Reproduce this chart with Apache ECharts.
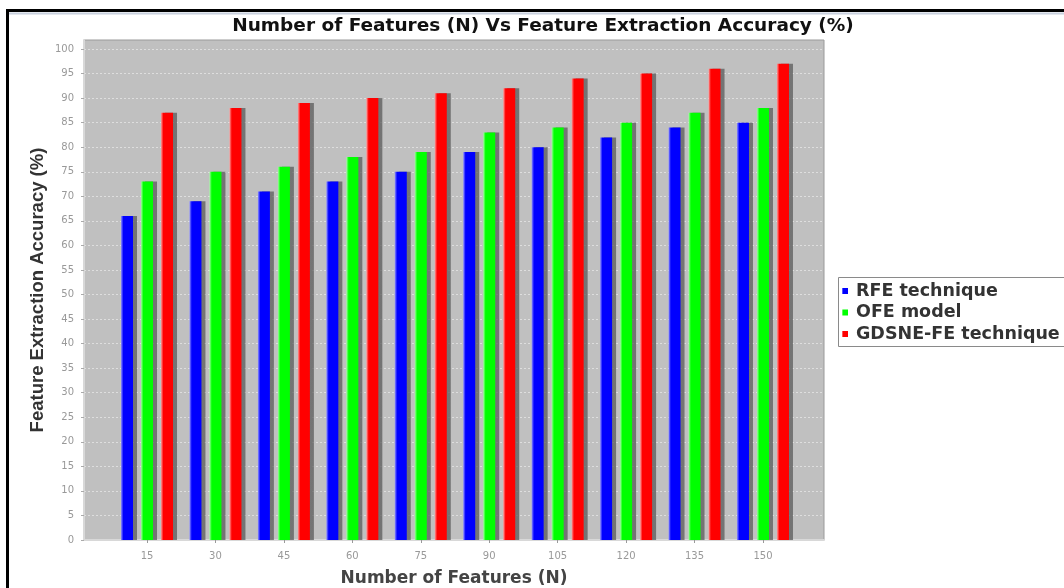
<!DOCTYPE html>
<html>
<head>
<meta charset="utf-8">
<script src="https://cdn.jsdelivr.net/npm/echarts@6/dist/echarts.min.js"></script>
<style>html,body{margin:0;padding:0;background:#fff}#c{width:1064px;height:588px}</style>
</head>
<body>
<div id="c"></div>
<script>
const categories = ['15','30','45','60','75','90','105','120','135','150'];
const rfe = [66,69,71,73,75,79,80,82,84,85];
const ofe = [73,75,76,78,79,83,84,85,87,88];
const gdsne = [87,88,89,90,91,92,94,95,96,97];
const seriesNames = ['RFE technique','OFE model','GDSNE-FE technique'];
const seriesColors = ['#0000ff','#00ff00','#ff0000'];
const seriesLight = ['#9090ff','#a0ffa0','#ff9a9a'];
const seriesData = [rfe, ofe, gdsne];

const chart = echarts.init(document.getElementById('c'), null, {renderer:'canvas'});

function barStyle(i){
  return {
    color: new echarts.graphic.LinearGradient(0,0,1,0,[
      {offset:0,color:seriesLight[i]},
      {offset:0.2,color:seriesColors[i]},
      {offset:1,color:seriesColors[i]}
    ]),
    shadowColor:'rgba(90,90,90,0.75)',
    shadowOffsetX:4,
    shadowOffsetY:0,
    shadowBlur:0
  };
}

const option = {
  animation:false,
  title:{
    text:'Number of Features (N) Vs Feature Extraction Accuracy (%)',
    left:538, top:12, textAlign:'center',
    textStyle:{fontFamily:'DejaVu Sans', fontWeight:'bold', fontSize:18.5, color:'#111'}
  },
  legend:{
    orient:'vertical', left:842, top:282,
    itemWidth:6, itemHeight:6, itemGap:3.5, padding:0,
    icon:'rect',
    data:seriesNames,
    textStyle:{fontFamily:'DejaVu Sans', fontWeight:'bold', fontSize:17.5, color:'#333', padding:[0,0,0,3]}
  },
  graphic:[
    {type:'rect', shape:{x:7.5,y:10.5,width:1100,height:620}, style:{fill:'none',stroke:'#000',lineWidth:3}, silent:true, z:100},
    {type:'line', shape:{x1:9,y1:13.5,x2:1064,y2:13.5}, style:{stroke:'#c8d0de',lineWidth:2}, silent:true},
    {type:'rect', shape:{x:838.5,y:277.5,width:300,height:69}, style:{fill:'#fff',stroke:'#8a8a8a',lineWidth:1}, silent:true, z:-1}
  ],
  grid:[
    {left:84, top:40, width:740, height:500, show:true, backgroundColor:'#c0c0c0', borderColor:'#9a9a9a', borderWidth:1, outerBoundsMode:'none', containLabel:false},
    {left:84, top:49, width:740, height:491, outerBoundsMode:'none', containLabel:false},
    {left:112.8, top:49, width:684.4, height:491, outerBoundsMode:'none', containLabel:false}
  ],
  xAxis:[
    {gridIndex:0, type:'value', min:0, max:1, show:true, offset:3,
     axisLine:{show:true, lineStyle:{color:'#d8d8d8', width:2}},
     axisTick:{show:false}, axisLabel:{show:false}, splitLine:{show:false},
     name:'Number of Features (N)', nameLocation:'middle', nameGap:27,
     nameTextStyle:{fontFamily:'DejaVu Sans', fontWeight:'bold', fontSize:17, color:'#444'}},
    {gridIndex:1, type:'value', min:0, max:1, show:false},
    {gridIndex:2, type:'category', data:categories, offset:3,
     axisLine:{show:false},
     axisTick:{show:true, alignWithLabel:true, length:3, lineStyle:{color:'#999'}},
     axisLabel:{fontFamily:'DejaVu Sans', fontSize:10, color:'#999', margin:8},
     splitLine:{show:false}}
  ],
  yAxis:[
    {gridIndex:0, type:'value', min:0, max:1, offset:4,
     axisLine:{show:true, lineStyle:{color:'#d8d8d8', width:2}},
     axisTick:{show:false}, axisLabel:{show:false}, splitLine:{show:false},
     name:'Feature Extraction Accuracy (%)', nameLocation:'middle', nameGap:33,
     nameTextStyle:{fontFamily:'Liberation Sans', fontWeight:'bold', fontSize:18.5, color:'#333'}},
    {gridIndex:1, type:'value', min:0, max:100, interval:5, offset:4,
     axisLine:{show:false},
     axisTick:{show:true, length:3, lineStyle:{color:'#aaa'}},
     axisLabel:{fontFamily:'DejaVu Sans', fontSize:10, color:'#999', margin:6},
     splitLine:{show:true, lineStyle:{color:'#dedede', type:[2,2], width:1}}},
    {gridIndex:2, type:'value', min:0, max:100, show:false}
  ],
  series: seriesNames.map((n,i)=>({
    name:n, type:'bar', xAxisIndex:2, yAxisIndex:2,
    data:seriesData[i], barWidth:12, barGap:'66.7%',
    itemStyle:barStyle(i)
  }))
};
chart.setOption(option);
</script>
</body>
</html>
